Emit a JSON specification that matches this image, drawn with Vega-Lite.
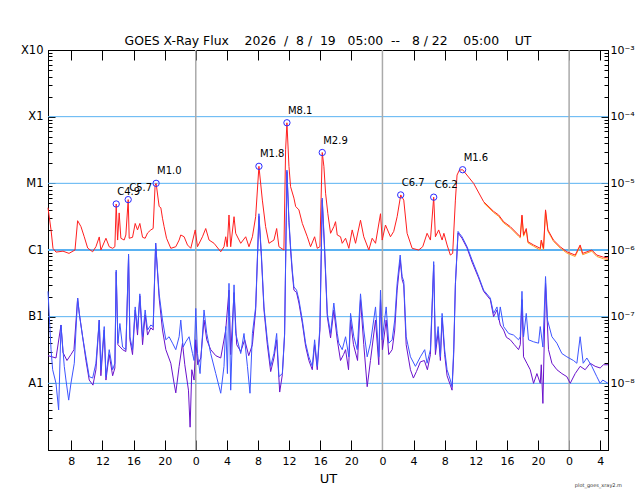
{
  "$schema": "https://vega.github.io/schema/vega-lite/v6.json",
  "width": 560,
  "height": 400,
  "autosize": {"type": "none"},
  "padding": {"left": 48, "top": 50, "right": 32, "bottom": 50},
  "background": "white",
  "title": {
    "text": "GOES X-Ray Flux\u00a0\u00a0\u00a0\u00a02026\u00a0\u00a0/\u00a0\u00a08\u00a0/\u00a0\u00a019\u00a0\u00a0\u00a005:00\u00a0\u00a0--\u00a0\u00a0\u00a08\u00a0/\u00a022\u00a0\u00a0\u00a0\u00a005:00\u00a0\u00a0\u00a0\u00a0UT",
    "font": "DejaVu Sans",
    "fontSize": 12.4,
    "fontWeight": "normal",
    "color": "black",
    "anchor": "middle",
    "offset": -3
  },
  "datasets": {
    "levels": [{"f": 1e-4}, {"f": 1e-5}, {"f": 1e-6}, {"f": 1e-7}, {"f": 1e-8}],
    "days": [{"h": 24}, {"h": 48}, {"h": 72}],
    "flares": [
      {"h": 13.77, "f": 4.9e-6, "label": "C4.9"},
      {"h": 15.31, "f": 5.7e-6, "label": "C5.7"},
      {"h": 18.9, "f": 1.0e-5, "label": "M1.0"},
      {"h": 32.12, "f": 1.8e-5, "label": "M1.8"},
      {"h": 35.72, "f": 8.1e-5, "label": "M8.1"},
      {"h": 40.26, "f": 2.9e-5, "label": "M2.9"},
      {"h": 50.35, "f": 6.7e-6, "label": "C6.7"},
      {"h": 54.59, "f": 6.2e-6, "label": "C6.2"},
      {"h": 58.31, "f": 1.6e-5, "label": "M1.6"}
    ],
    "xl": [
      {"h": 5.0, "f": 4.3e-6}, {"h": 5.39, "f": 2.0e-6}, {"h": 5.64, "f": 1.06e-6}, {"h": 6.03, "f": 9.3e-7},
      {"h": 6.93, "f": 9.6e-7}, {"h": 7.7, "f": 8.9e-7}, {"h": 8.47, "f": 1.0e-6}, {"h": 8.81, "f": 2.75e-6},
      {"h": 9.24, "f": 2.24e-6}, {"h": 9.66, "f": 1.58e-6}, {"h": 10.1, "f": 1.07e-6}, {"h": 10.74, "f": 9.4e-7},
      {"h": 11.16, "f": 1.12e-6}, {"h": 11.59, "f": 1.57e-6}, {"h": 11.8, "f": 1.0e-6}, {"h": 12.45, "f": 1.5e-6},
      {"h": 12.87, "f": 1.12e-6}, {"h": 13.31, "f": 1.06e-6}, {"h": 13.6, "f": 1.12e-6}, {"h": 13.77, "f": 4.9e-6},
      {"h": 13.95, "f": 1.41e-6}, {"h": 14.15, "f": 3.6e-6}, {"h": 14.37, "f": 1.5e-6}, {"h": 14.79, "f": 1.41e-6},
      {"h": 15.01, "f": 1.68e-6}, {"h": 15.31, "f": 5.7e-6}, {"h": 15.44, "f": 1.5e-6}, {"h": 15.87, "f": 1.55e-6},
      {"h": 16.21, "f": 2.5e-6}, {"h": 16.51, "f": 2.0e-6}, {"h": 16.81, "f": 2.5e-6}, {"h": 17.16, "f": 1.55e-6},
      {"h": 17.49, "f": 1.5e-6}, {"h": 17.8, "f": 1.8e-6}, {"h": 18.22, "f": 2.0e-6}, {"h": 18.52, "f": 2.1e-6},
      {"h": 18.77, "f": 9.4e-6}, {"h": 18.9, "f": 1.0e-5}, {"h": 19.29, "f": 4.5e-6}, {"h": 19.51, "f": 4.3e-6},
      {"h": 19.72, "f": 3.0e-6}, {"h": 19.93, "f": 2.24e-6}, {"h": 20.24, "f": 1.5e-6}, {"h": 20.79, "f": 1.06e-6},
      {"h": 21.43, "f": 1.12e-6}, {"h": 21.86, "f": 1.41e-6}, {"h": 22.07, "f": 1.68e-6}, {"h": 22.5, "f": 1.58e-6},
      {"h": 22.93, "f": 1.19e-6}, {"h": 23.36, "f": 1.06e-6}, {"h": 23.93, "f": 2.0e-6}, {"h": 24.22, "f": 1.12e-6},
      {"h": 24.86, "f": 1.58e-6}, {"h": 25.28, "f": 2.1e-6}, {"h": 25.71, "f": 1.41e-6}, {"h": 26.35, "f": 1.26e-6},
      {"h": 27.21, "f": 9.4e-7}, {"h": 27.63, "f": 1.12e-6}, {"h": 27.85, "f": 1.58e-6}, {"h": 28.04, "f": 1.12e-6},
      {"h": 28.27, "f": 3.35e-6}, {"h": 28.49, "f": 1.12e-6}, {"h": 28.92, "f": 3.16e-6}, {"h": 29.13, "f": 1.78e-6},
      {"h": 29.78, "f": 1.26e-6}, {"h": 30.42, "f": 1.58e-6}, {"h": 30.84, "f": 1.12e-6}, {"h": 31.28, "f": 1.58e-6},
      {"h": 31.7, "f": 3.16e-6}, {"h": 32.12, "f": 1.8e-5}, {"h": 32.56, "f": 5.6e-6}, {"h": 32.98, "f": 2.24e-6},
      {"h": 33.41, "f": 1.26e-6}, {"h": 34.05, "f": 1.41e-6}, {"h": 34.4, "f": 2.1e-6}, {"h": 34.69, "f": 1.12e-6},
      {"h": 35.33, "f": 1.0e-6}, {"h": 35.55, "f": 3.2e-5}, {"h": 35.72, "f": 8.1e-5}, {"h": 35.98, "f": 1.8e-5},
      {"h": 36.19, "f": 8.9e-6}, {"h": 36.62, "f": 6.0e-6}, {"h": 36.84, "f": 4.5e-6}, {"h": 37.26, "f": 4.0e-6},
      {"h": 37.7, "f": 2.5e-6}, {"h": 38.34, "f": 1.58e-6}, {"h": 38.76, "f": 1.12e-6}, {"h": 39.28, "f": 1.58e-6},
      {"h": 39.62, "f": 1.06e-6}, {"h": 39.96, "f": 1.12e-6}, {"h": 40.26, "f": 2.9e-5}, {"h": 40.47, "f": 1.8e-5},
      {"h": 40.69, "f": 7.1e-6}, {"h": 40.98, "f": 3.5e-6}, {"h": 41.33, "f": 1.78e-6}, {"h": 41.75, "f": 2.24e-6},
      {"h": 41.97, "f": 2.66e-6}, {"h": 42.19, "f": 1.68e-6}, {"h": 42.61, "f": 1.58e-6}, {"h": 42.83, "f": 1.26e-6},
      {"h": 43.26, "f": 1.5e-6}, {"h": 43.68, "f": 1.06e-6}, {"h": 44.11, "f": 2.0e-6}, {"h": 44.54, "f": 1.26e-6},
      {"h": 45.18, "f": 2.8e-6}, {"h": 45.6, "f": 1.58e-6}, {"h": 46.25, "f": 1.0e-6}, {"h": 46.68, "f": 1.5e-6},
      {"h": 47.11, "f": 1.26e-6}, {"h": 47.75, "f": 3.5e-6}, {"h": 47.97, "f": 1.41e-6}, {"h": 48.39, "f": 2.37e-6},
      {"h": 49.03, "f": 1.58e-6}, {"h": 49.45, "f": 1.9e-6}, {"h": 49.89, "f": 3.16e-6}, {"h": 50.35, "f": 6.7e-6},
      {"h": 50.74, "f": 5.6e-6}, {"h": 51.17, "f": 1.78e-6}, {"h": 51.82, "f": 1.06e-6}, {"h": 52.66, "f": 1.0e-6},
      {"h": 53.18, "f": 1.12e-6}, {"h": 53.74, "f": 1.78e-6}, {"h": 54.17, "f": 1.41e-6}, {"h": 54.59, "f": 6.2e-6},
      {"h": 54.81, "f": 1.58e-6}, {"h": 55.23, "f": 2.0e-6}, {"h": 55.67, "f": 1.41e-6}, {"h": 55.9, "f": 1.78e-6},
      {"h": 56.31, "f": 1.19e-6}, {"h": 56.73, "f": 8.4e-7}, {"h": 57.03, "f": 8.9e-7}, {"h": 57.38, "f": 5.6e-6},
      {"h": 57.59, "f": 1.33e-5}, {"h": 57.89, "f": 1.58e-5}, {"h": 58.31, "f": 1.6e-5}, {"h": 59.72, "f": 1.0e-5},
      {"h": 61.01, "f": 5.3e-6}, {"h": 62.29, "f": 3.8e-6}, {"h": 62.94, "f": 3.35e-6}, {"h": 63.58, "f": 2.66e-6},
      {"h": 64.44, "f": 2.24e-6}, {"h": 65.5, "f": 1.68e-6}, {"h": 65.72, "f": 1.58e-6}, {"h": 65.94, "f": 3.35e-6},
      {"h": 66.14, "f": 1.68e-6}, {"h": 66.49, "f": 2.1e-6}, {"h": 66.71, "f": 1.33e-6}, {"h": 67.43, "f": 1.19e-6},
      {"h": 68.29, "f": 1.06e-6}, {"h": 68.42, "f": 1.41e-6}, {"h": 68.71, "f": 1.06e-6}, {"h": 68.97, "f": 4.0e-6},
      {"h": 69.27, "f": 2.0e-6}, {"h": 69.99, "f": 1.41e-6}, {"h": 70.85, "f": 1.12e-6}, {"h": 71.71, "f": 9.4e-7},
      {"h": 72.78, "f": 8.4e-7}, {"h": 73.42, "f": 1.19e-6}, {"h": 73.74, "f": 8.9e-7}, {"h": 74.92, "f": 1.0e-6},
      {"h": 75.56, "f": 8.4e-7}, {"h": 76.41, "f": 7.8e-7}, {"h": 77.0, "f": 7.6e-7}
    ],
    "xl2": [
      {"h": 61.01, "f": 5.1e-6}, {"h": 62.29, "f": 3.65e-6}, {"h": 62.94, "f": 3.2e-6}, {"h": 63.58, "f": 2.55e-6},
      {"h": 64.44, "f": 2.15e-6}, {"h": 65.5, "f": 1.61e-6}, {"h": 65.72, "f": 1.52e-6}, {"h": 65.94, "f": 3.2e-6},
      {"h": 66.14, "f": 1.61e-6}, {"h": 66.49, "f": 2.0e-6}, {"h": 66.71, "f": 1.28e-6}, {"h": 67.43, "f": 1.14e-6},
      {"h": 68.29, "f": 1.0e-6}, {"h": 68.42, "f": 1.35e-6}, {"h": 68.71, "f": 1.0e-6}, {"h": 68.97, "f": 3.85e-6},
      {"h": 69.27, "f": 1.92e-6}, {"h": 69.99, "f": 1.35e-6}, {"h": 70.85, "f": 1.07e-6}, {"h": 71.71, "f": 9.0e-7},
      {"h": 72.78, "f": 8.0e-7}, {"h": 73.42, "f": 1.14e-6}, {"h": 73.74, "f": 8.5e-7}, {"h": 74.92, "f": 9.6e-7},
      {"h": 75.56, "f": 8.0e-7}, {"h": 76.41, "f": 7.4e-7}, {"h": 77.0, "f": 7.2e-7}
    ],
    "xs": [
      {"h": 5.0, "f": 2.4e-7}, {"h": 5.39, "f": 3.2e-8}, {"h": 5.6, "f": 1.6e-8}, {"h": 6.03, "f": 1.0e-8},
      {"h": 6.37, "f": 4.0e-9}, {"h": 6.67, "f": 7.5e-8}, {"h": 7.09, "f": 1.8e-8}, {"h": 7.31, "f": 1.12e-8},
      {"h": 7.66, "f": 5.6e-9}, {"h": 7.95, "f": 1.0e-8}, {"h": 8.38, "f": 2.0e-8}, {"h": 8.81, "f": 1.9e-7},
      {"h": 9.02, "f": 1.12e-7}, {"h": 9.45, "f": 5.0e-8}, {"h": 9.88, "f": 2.5e-8}, {"h": 10.3, "f": 1.26e-8},
      {"h": 10.74, "f": 1.2e-8}, {"h": 11.16, "f": 2.0e-8}, {"h": 11.59, "f": 8.9e-8}, {"h": 11.8, "f": 1.6e-8},
      {"h": 12.23, "f": 7.1e-8}, {"h": 12.45, "f": 1.26e-8}, {"h": 12.87, "f": 3.2e-8}, {"h": 13.31, "f": 1.6e-8},
      {"h": 13.6, "f": 2.0e-8}, {"h": 13.77, "f": 5.0e-7}, {"h": 13.99, "f": 4.0e-8}, {"h": 14.24, "f": 7.9e-8},
      {"h": 14.59, "f": 3.5e-8}, {"h": 15.01, "f": 3.2e-8}, {"h": 15.36, "f": 8.7e-7}, {"h": 15.53, "f": 5.0e-8},
      {"h": 15.87, "f": 3.2e-8}, {"h": 16.21, "f": 1.4e-7}, {"h": 16.51, "f": 6.3e-8}, {"h": 16.81, "f": 2.2e-7},
      {"h": 17.16, "f": 5.0e-8}, {"h": 17.49, "f": 1.26e-7}, {"h": 17.8, "f": 6.3e-8}, {"h": 18.22, "f": 7.5e-8},
      {"h": 18.52, "f": 7.1e-8}, {"h": 18.84, "f": 1.27e-6}, {"h": 19.29, "f": 2.2e-7}, {"h": 19.72, "f": 8.9e-8},
      {"h": 20.15, "f": 4.5e-8}, {"h": 20.57, "f": 5.0e-8}, {"h": 21.01, "f": 4.0e-8}, {"h": 21.43, "f": 3.2e-8},
      {"h": 21.86, "f": 5.0e-8}, {"h": 22.07, "f": 8.9e-8}, {"h": 22.37, "f": 3.5e-8}, {"h": 22.72, "f": 4.2e-8},
      {"h": 23.14, "f": 5.0e-8}, {"h": 23.58, "f": 2.8e-8}, {"h": 23.78, "f": 2.2e-8}, {"h": 24.0, "f": 1.33e-7},
      {"h": 24.22, "f": 2.8e-8}, {"h": 24.55, "f": 1.4e-8}, {"h": 25.06, "f": 1.26e-7}, {"h": 25.41, "f": 5.6e-8},
      {"h": 25.92, "f": 2.8e-8}, {"h": 26.57, "f": 1.4e-8}, {"h": 27.21, "f": 7.1e-9}, {"h": 27.63, "f": 1.8e-8},
      {"h": 27.85, "f": 7.1e-8}, {"h": 28.07, "f": 1.4e-8}, {"h": 28.27, "f": 3.16e-7}, {"h": 28.49, "f": 7.9e-9},
      {"h": 28.92, "f": 3.0e-7}, {"h": 29.13, "f": 5.6e-8}, {"h": 29.78, "f": 2.8e-8}, {"h": 30.2, "f": 5.6e-8},
      {"h": 30.64, "f": 1.8e-8}, {"h": 30.97, "f": 7.1e-9}, {"h": 31.28, "f": 5.6e-8}, {"h": 31.7, "f": 1.4e-7},
      {"h": 32.12, "f": 3.5e-6}, {"h": 32.43, "f": 8.9e-7}, {"h": 32.77, "f": 1.4e-7}, {"h": 33.2, "f": 4.5e-8},
      {"h": 33.63, "f": 1.8e-8}, {"h": 34.05, "f": 2.8e-8}, {"h": 34.4, "f": 5.6e-8}, {"h": 34.69, "f": 1.26e-8},
      {"h": 35.13, "f": 1.4e-8}, {"h": 35.42, "f": 5.6e-8}, {"h": 35.72, "f": 1.58e-5}, {"h": 35.98, "f": 2.8e-6},
      {"h": 36.19, "f": 1.12e-6}, {"h": 36.41, "f": 5.0e-7}, {"h": 36.62, "f": 2.8e-7}, {"h": 36.96, "f": 2.5e-7},
      {"h": 37.26, "f": 1.8e-7}, {"h": 37.7, "f": 8.9e-8}, {"h": 38.12, "f": 4.0e-8}, {"h": 38.54, "f": 2.5e-8},
      {"h": 38.98, "f": 1.8e-8}, {"h": 39.28, "f": 4.5e-8}, {"h": 39.62, "f": 1.8e-8}, {"h": 39.96, "f": 7.1e-8},
      {"h": 40.26, "f": 6.0e-6}, {"h": 40.56, "f": 1.12e-6}, {"h": 40.91, "f": 1.12e-7}, {"h": 41.33, "f": 5.6e-8},
      {"h": 41.75, "f": 1.6e-7}, {"h": 42.19, "f": 5.6e-8}, {"h": 42.39, "f": 4.0e-8}, {"h": 42.83, "f": 3.2e-8},
      {"h": 43.26, "f": 5.0e-8}, {"h": 43.68, "f": 2.5e-8}, {"h": 43.9, "f": 1.12e-7}, {"h": 44.32, "f": 5.0e-8},
      {"h": 44.76, "f": 3.2e-8}, {"h": 45.18, "f": 2.2e-7}, {"h": 45.6, "f": 6.3e-8}, {"h": 46.04, "f": 2.5e-8},
      {"h": 46.46, "f": 4.0e-8}, {"h": 47.11, "f": 1.4e-7}, {"h": 47.53, "f": 2.5e-8}, {"h": 47.75, "f": 2.5e-7},
      {"h": 47.97, "f": 4.5e-8}, {"h": 48.48, "f": 1.4e-7}, {"h": 48.81, "f": 4.0e-8}, {"h": 49.25, "f": 4.5e-8},
      {"h": 49.58, "f": 8.9e-8}, {"h": 49.89, "f": 3.16e-7}, {"h": 50.28, "f": 8.4e-7}, {"h": 50.53, "f": 4.0e-7},
      {"h": 50.74, "f": 3.4e-7}, {"h": 51.05, "f": 5.0e-8}, {"h": 51.6, "f": 2.5e-8}, {"h": 52.24, "f": 1.8e-8},
      {"h": 52.88, "f": 2.5e-8}, {"h": 53.43, "f": 3.2e-8}, {"h": 53.74, "f": 2.0e-8}, {"h": 54.17, "f": 3.2e-8},
      {"h": 54.59, "f": 6.7e-7}, {"h": 54.81, "f": 3.2e-8}, {"h": 55.16, "f": 7.1e-8}, {"h": 55.45, "f": 2.5e-8},
      {"h": 55.67, "f": 1.12e-7}, {"h": 56.0, "f": 3.2e-8}, {"h": 56.31, "f": 1.6e-8}, {"h": 56.73, "f": 1.12e-8},
      {"h": 56.95, "f": 8.9e-9}, {"h": 57.16, "f": 3.2e-8}, {"h": 57.38, "f": 3.16e-7}, {"h": 57.72, "f": 1.9e-6},
      {"h": 57.89, "f": 1.78e-6}, {"h": 58.23, "f": 1.58e-6}, {"h": 58.88, "f": 1.12e-6}, {"h": 59.52, "f": 7.1e-7},
      {"h": 60.37, "f": 4.0e-7}, {"h": 61.01, "f": 2.5e-7}, {"h": 61.87, "f": 1.9e-7}, {"h": 62.29, "f": 1.12e-7},
      {"h": 62.73, "f": 1.4e-7}, {"h": 62.94, "f": 8.9e-8}, {"h": 63.15, "f": 1.4e-7}, {"h": 63.58, "f": 7.1e-8},
      {"h": 64.22, "f": 5.6e-8}, {"h": 64.86, "f": 5.3e-8}, {"h": 65.5, "f": 4.5e-8}, {"h": 65.72, "f": 5.0e-8},
      {"h": 65.94, "f": 2.4e-7}, {"h": 66.14, "f": 5.0e-8}, {"h": 66.49, "f": 1.12e-7}, {"h": 66.78, "f": 4.5e-8},
      {"h": 67.43, "f": 4.2e-8}, {"h": 68.07, "f": 4.0e-8}, {"h": 68.29, "f": 7.1e-8}, {"h": 68.63, "f": 3.5e-8},
      {"h": 68.97, "f": 4.0e-7}, {"h": 69.22, "f": 8.9e-8}, {"h": 69.79, "f": 5.0e-8}, {"h": 70.43, "f": 4.0e-8},
      {"h": 71.07, "f": 2.8e-8}, {"h": 71.71, "f": 2.5e-8}, {"h": 72.56, "f": 2.2e-8}, {"h": 73.0, "f": 2.0e-8},
      {"h": 73.42, "f": 5.0e-8}, {"h": 73.81, "f": 2.0e-8}, {"h": 74.28, "f": 2.4e-8}, {"h": 74.92, "f": 1.8e-8},
      {"h": 75.56, "f": 1.26e-8}, {"h": 75.99, "f": 1.0e-8}, {"h": 76.33, "f": 1.12e-8}, {"h": 77.0, "f": 1.0e-8}
    ],
    "xs2": [
      {"h": 5.0, "f": 2.6e-8}, {"h": 6.03, "f": 2.4e-8}, {"h": 6.67, "f": 7.5e-8}, {"h": 6.93, "f": 2.9e-8},
      {"h": 7.44, "f": 2.2e-8}, {"h": 7.95, "f": 2.7e-8}, {"h": 8.34, "f": 3.2e-8}, {"h": 8.81, "f": 1.9e-7},
      {"h": 9.02, "f": 1.12e-7}, {"h": 9.45, "f": 5.0e-8}, {"h": 9.88, "f": 2.2e-8}, {"h": 10.3, "f": 1.12e-8},
      {"h": 10.78, "f": 9.4e-9}, {"h": 11.16, "f": 1.6e-8}, {"h": 11.59, "f": 8.9e-8}, {"h": 11.8, "f": 1.3e-8},
      {"h": 12.23, "f": 6.3e-8}, {"h": 12.45, "f": 1.12e-8}, {"h": 12.87, "f": 2.7e-8}, {"h": 13.31, "f": 1.3e-8},
      {"h": 13.6, "f": 1.7e-8}, {"h": 13.77, "f": 4.7e-7}, {"h": 13.99, "f": 3.8e-8}, {"h": 14.59, "f": 3.2e-8},
      {"h": 15.01, "f": 3.0e-8}, {"h": 15.36, "f": 8.1e-7}, {"h": 15.53, "f": 4.5e-8}, {"h": 15.87, "f": 2.7e-8},
      {"h": 16.21, "f": 1.26e-7}, {"h": 16.51, "f": 5.3e-8}, {"h": 16.81, "f": 2.05e-7}, {"h": 17.16, "f": 3.8e-8},
      {"h": 17.49, "f": 1.06e-7}, {"h": 17.8, "f": 5.3e-8}, {"h": 18.22, "f": 6.8e-8}, {"h": 18.52, "f": 6.3e-8},
      {"h": 18.84, "f": 1.27e-6}, {"h": 19.29, "f": 1.9e-7}, {"h": 19.72, "f": 6.3e-8}, {"h": 20.15, "f": 3.2e-8},
      {"h": 20.79, "f": 2.0e-8}, {"h": 21.21, "f": 1.0e-8}, {"h": 21.43, "f": 7.2e-9}, {"h": 21.86, "f": 1.8e-8},
      {"h": 22.29, "f": 4.0e-8}, {"h": 22.59, "f": 1.9e-8}, {"h": 23.06, "f": 7.9e-9}, {"h": 23.27, "f": 2.2e-9},
      {"h": 23.49, "f": 1.6e-8}, {"h": 23.78, "f": 1.12e-8}, {"h": 24.0, "f": 4.5e-8}, {"h": 24.25, "f": 1.9e-8},
      {"h": 24.64, "f": 2.4e-8}, {"h": 25.06, "f": 8.9e-8}, {"h": 25.41, "f": 4.5e-8}, {"h": 25.92, "f": 3.2e-8},
      {"h": 26.57, "f": 2.6e-8}, {"h": 27.21, "f": 2.4e-8}, {"h": 27.85, "f": 6.3e-8}, {"h": 28.27, "f": 2.5e-7},
      {"h": 28.49, "f": 2.7e-8}, {"h": 28.92, "f": 2.3e-7}, {"h": 29.26, "f": 3.8e-8}, {"h": 29.78, "f": 3.0e-8},
      {"h": 30.29, "f": 4.5e-8}, {"h": 30.81, "f": 2.6e-8}, {"h": 31.28, "f": 3.8e-8}, {"h": 31.7, "f": 1.26e-7},
      {"h": 32.12, "f": 3.2e-6}, {"h": 32.43, "f": 8.1e-7}, {"h": 32.77, "f": 1.26e-7}, {"h": 33.2, "f": 3.8e-8},
      {"h": 33.63, "f": 1.5e-8}, {"h": 34.05, "f": 2.4e-8}, {"h": 34.4, "f": 4.5e-8}, {"h": 34.79, "f": 7.4e-9},
      {"h": 35.13, "f": 1.35e-8}, {"h": 35.42, "f": 5.3e-8}, {"h": 35.72, "f": 1.5e-5}, {"h": 35.98, "f": 2.6e-6},
      {"h": 36.19, "f": 1.0e-6}, {"h": 36.41, "f": 4.5e-7}, {"h": 36.62, "f": 2.5e-7}, {"h": 36.96, "f": 2.3e-7},
      {"h": 37.26, "f": 1.6e-7}, {"h": 37.7, "f": 8.0e-8}, {"h": 38.12, "f": 3.6e-8}, {"h": 38.54, "f": 2.2e-8},
      {"h": 38.98, "f": 1.6e-8}, {"h": 39.28, "f": 3.8e-8}, {"h": 39.62, "f": 1.6e-8}, {"h": 39.96, "f": 6.3e-8},
      {"h": 40.26, "f": 5.6e-6}, {"h": 40.56, "f": 1.0e-6}, {"h": 40.91, "f": 1.0e-7}, {"h": 41.33, "f": 4.8e-8},
      {"h": 41.75, "f": 1.26e-7}, {"h": 42.19, "f": 4.5e-8}, {"h": 42.61, "f": 2.2e-8}, {"h": 43.0, "f": 2.7e-8},
      {"h": 43.26, "f": 3.2e-8}, {"h": 43.64, "f": 1.6e-8}, {"h": 43.9, "f": 8.9e-8}, {"h": 44.28, "f": 3.8e-8},
      {"h": 44.8, "f": 2.2e-8}, {"h": 45.18, "f": 1.8e-7}, {"h": 45.6, "f": 3.8e-8}, {"h": 46.04, "f": 8.9e-9},
      {"h": 46.46, "f": 2.2e-8}, {"h": 47.11, "f": 8.9e-8}, {"h": 47.53, "f": 1.9e-8}, {"h": 47.75, "f": 1.8e-7},
      {"h": 48.0, "f": 3.2e-8}, {"h": 48.48, "f": 8.9e-8}, {"h": 48.81, "f": 2.7e-8}, {"h": 49.25, "f": 3.2e-8},
      {"h": 49.58, "f": 6.3e-8}, {"h": 49.89, "f": 2.5e-7}, {"h": 50.28, "f": 7.1e-7}, {"h": 50.53, "f": 3.6e-7},
      {"h": 50.74, "f": 3.0e-7}, {"h": 51.05, "f": 3.8e-8}, {"h": 51.6, "f": 1.6e-8}, {"h": 51.98, "f": 1.2e-8},
      {"h": 52.37, "f": 1.5e-8}, {"h": 52.88, "f": 2.1e-8}, {"h": 53.39, "f": 2.2e-8}, {"h": 53.78, "f": 1.6e-8},
      {"h": 54.17, "f": 2.7e-8}, {"h": 54.59, "f": 6.0e-7}, {"h": 54.81, "f": 2.7e-8}, {"h": 55.16, "f": 5.9e-8},
      {"h": 55.45, "f": 2.2e-8}, {"h": 55.67, "f": 9.6e-8}, {"h": 56.0, "f": 2.7e-8}, {"h": 56.31, "f": 1.3e-8},
      {"h": 56.73, "f": 9.4e-9}, {"h": 56.95, "f": 7.9e-9}, {"h": 57.16, "f": 2.7e-8}, {"h": 57.38, "f": 3.0e-7},
      {"h": 57.72, "f": 1.8e-6}, {"h": 58.23, "f": 1.5e-6}, {"h": 58.88, "f": 1.07e-6}, {"h": 59.52, "f": 6.6e-7},
      {"h": 60.37, "f": 3.8e-7}, {"h": 61.01, "f": 2.4e-7}, {"h": 61.87, "f": 1.8e-7}, {"h": 62.29, "f": 1.0e-7},
      {"h": 62.73, "f": 1.26e-7}, {"h": 63.15, "f": 7.5e-8}, {"h": 63.58, "f": 6.3e-8}, {"h": 63.94, "f": 4.9e-8},
      {"h": 64.44, "f": 4.5e-8}, {"h": 64.96, "f": 3.8e-8}, {"h": 65.5, "f": 3.2e-8}, {"h": 65.72, "f": 3.8e-8},
      {"h": 65.94, "f": 1.8e-7}, {"h": 66.14, "f": 2.5e-8}, {"h": 66.57, "f": 2.0e-8}, {"h": 67.0, "f": 1.6e-8},
      {"h": 67.43, "f": 1.0e-8}, {"h": 67.86, "f": 1.4e-8}, {"h": 68.29, "f": 1.0e-8}, {"h": 68.42, "f": 1.9e-8},
      {"h": 68.63, "f": 5.0e-9}, {"h": 68.97, "f": 3.16e-7}, {"h": 69.35, "f": 3.2e-8}, {"h": 69.79, "f": 2.0e-8},
      {"h": 70.43, "f": 1.6e-8}, {"h": 71.07, "f": 1.4e-8}, {"h": 71.71, "f": 1.26e-8}, {"h": 72.14, "f": 1.0e-8},
      {"h": 72.78, "f": 1.4e-8}, {"h": 73.42, "f": 1.8e-8}, {"h": 74.06, "f": 1.6e-8}, {"h": 74.71, "f": 2.0e-8},
      {"h": 75.35, "f": 1.8e-8}, {"h": 75.99, "f": 1.7e-8}, {"h": 76.41, "f": 1.9e-8}, {"h": 77.0, "f": 1.9e-8}
    ]
  },
  "config": {
    "view": {"stroke": "black", "strokeWidth": 1},
    "font": "DejaVu Sans",
    "axis": {
      "labelFont": "DejaVu Sans",
      "labelColor": "black",
      "labelFontSize": 11,
      "domainColor": "black",
      "tickColor": "black",
      "grid": false,
      "titleFont": "DejaVu Sans",
      "titleFontWeight": "normal",
      "titleColor": "black"
    }
  },
  "resolve": {"axis": {"x": "independent", "y": "independent"}},
  "layer": [
    {
      "data": {"name": "levels"},
      "mark": {"type": "rule", "color": "#5ab2f2"},
      "encoding": {
        "y": {
          "field": "f",
          "type": "quantitative",
          "scale": {"type": "log", "domain": [1e-9, 1e-3], "nice": false},
          "axis": {
            "orient": "left",
            "title": null,
            "values": [1e-9, 2e-9, 3e-9, 4e-9, 5e-9, 6e-9, 7e-9, 8e-9, 9e-9, 1e-8, 2e-8, 3e-8, 4e-8, 5e-8, 6e-8, 7e-8, 8e-8, 9e-8, 1e-7, 2e-7, 3e-7, 4e-7, 5e-7, 6e-7, 7e-7, 8e-7, 9e-7, 1e-6, 2e-6, 3e-6, 4e-6, 5e-6, 6e-6, 7e-6, 8e-6, 9e-6, 1e-5, 2e-5, 3e-5, 4e-5, 5e-5, 6e-5, 7e-5, 8e-5, 9e-5, 1e-4, 2e-4, 3e-4, 4e-4, 5e-4, 6e-4, 7e-4, 8e-4, 9e-4, 1e-3],
            "labelExpr": "abs(log(datum.value)/LN10 - round(log(datum.value)/LN10)) < 0.01 ? ['X10','X1','M1','C1','B1','A1',''][-3 - round(log(datum.value)/LN10)] : ''",
            "tickSize": {"condition": {"test": "abs(log(datum.value)/LN10 - round(log(datum.value)/LN10)) < 0.01", "value": -7}, "value": -4},
            "labelPadding": 12,
            "labelFontSize": 11.5
          }
        },
        "strokeWidth": {"condition": {"test": "datum.f == 1e-6", "value": 2}, "value": 1}
      }
    },
    {
      "data": {"name": "days"},
      "mark": {"type": "rule", "color": "#aaaaaa", "strokeWidth": 1.5},
      "encoding": {
        "x": {
          "field": "h",
          "type": "quantitative",
          "scale": {"domain": [5, 77], "nice": false, "zero": false},
          "axis": {
            "orient": "bottom",
            "title": "UT",
            "titleFontSize": 13,
            "titlePadding": 6,
            "values": [8, 12, 16, 20, 24, 28, 32, 36, 40, 44, 48, 52, 56, 60, 64, 68, 72, 76],
            "labelExpr": "datum.value % 24",
            "tickSize": -10,
            "labelPadding": 15
          }
        }
      }
    },
    {
      "data": {"name": "xl2"},
      "mark": {"type": "line", "color": "#ff9d1f", "strokeWidth": 1},
      "encoding": {
        "x": {"field": "h", "type": "quantitative", "axis": null},
        "y": {"field": "f", "type": "quantitative", "axis": null}
      }
    },
    {
      "data": {"name": "xl"},
      "mark": {"type": "line", "color": "#ff1f1f", "strokeWidth": 1},
      "encoding": {
        "x": {
          "field": "h",
          "type": "quantitative",
          "axis": {
            "orient": "top",
            "title": null,
            "labels": false,
            "values": [8, 12, 16, 20, 24, 28, 32, 36, 40, 44, 48, 52, 56, 60, 64, 68, 72, 76],
            "tickSize": -10
          }
        },
        "y": {
          "field": "f",
          "type": "quantitative",
          "axis": {
            "orient": "right",
            "title": null,
            "values": [1e-9, 2e-9, 3e-9, 4e-9, 5e-9, 6e-9, 7e-9, 8e-9, 9e-9, 1e-8, 2e-8, 3e-8, 4e-8, 5e-8, 6e-8, 7e-8, 8e-8, 9e-8, 1e-7, 2e-7, 3e-7, 4e-7, 5e-7, 6e-7, 7e-7, 8e-7, 9e-7, 1e-6, 2e-6, 3e-6, 4e-6, 5e-6, 6e-6, 7e-6, 8e-6, 9e-6, 1e-5, 2e-5, 3e-5, 4e-5, 5e-5, 6e-5, 7e-5, 8e-5, 9e-5, 1e-4, 2e-4, 3e-4, 4e-4, 5e-4, 6e-4, 7e-4, 8e-4, 9e-4, 1e-3],
            "labelExpr": "abs(log(datum.value)/LN10 - round(log(datum.value)/LN10)) < 0.01 ? ['10⁻³','10⁻⁴','10⁻⁵','10⁻⁶','10⁻⁷','10⁻⁸',''][-3 - round(log(datum.value)/LN10)] : ''",
            "tickSize": {"condition": {"test": "abs(log(datum.value)/LN10 - round(log(datum.value)/LN10)) < 0.01", "value": -7}, "value": -4},
            "labelPadding": 9
          }
        }
      }
    },
    {
      "data": {"name": "xs2"},
      "mark": {"type": "line", "color": "#6a12cc", "strokeWidth": 1},
      "encoding": {
        "x": {"field": "h", "type": "quantitative", "axis": null},
        "y": {"field": "f", "type": "quantitative", "axis": null}
      }
    },
    {
      "data": {"name": "xs"},
      "mark": {"type": "line", "color": "#3d55ff", "strokeWidth": 1},
      "encoding": {
        "x": {"field": "h", "type": "quantitative", "axis": null},
        "y": {"field": "f", "type": "quantitative", "axis": null}
      }
    },
    {
      "data": {"name": "flares"},
      "mark": {"type": "point", "shape": "circle", "filled": false, "color": "#2a2aff", "size": 40, "strokeWidth": 1, "opacity": 1},
      "encoding": {
        "x": {"field": "h", "type": "quantitative", "axis": null},
        "y": {"field": "f", "type": "quantitative", "axis": null}
      }
    },
    {
      "data": {"name": "flares"},
      "mark": {"type": "text", "align": "left", "baseline": "alphabetic", "dx": 1, "dy": -9, "fontSize": 10, "font": "DejaVu Sans", "color": "black"},
      "encoding": {
        "x": {"field": "h", "type": "quantitative", "axis": null},
        "y": {"field": "f", "type": "quantitative", "axis": null},
        "text": {"field": "label"}
      }
    },
    {
      "data": {"values": [{"note": "plot_goes_xray2.m"}]},
      "mark": {"type": "text", "align": "right", "baseline": "middle", "dx": 14, "dy": 35, "fontSize": 5, "font": "DejaVu Sans", "color": "#333333", "clip": false},
      "encoding": {
        "x": {"datum": 77, "type": "quantitative", "axis": null},
        "y": {"datum": 1e-9, "type": "quantitative", "axis": null},
        "text": {"field": "note"}
      }
    }
  ]
}
